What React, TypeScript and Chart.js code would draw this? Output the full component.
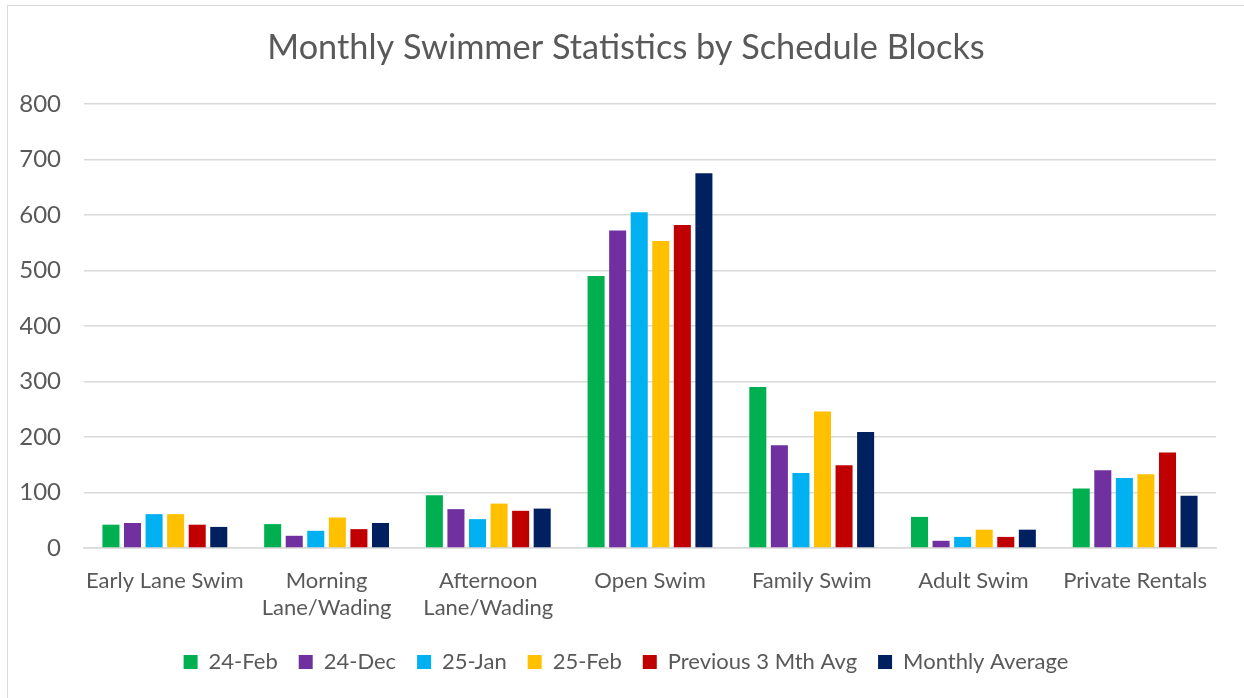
import React, { useEffect, useRef } from "react";
import { Chart, registerables } from "chart.js";

Chart.register(...registerables);

const categories: (string | string[])[] = [
  "Early Lane Swim",
  ["Morning", "Lane/Wading"],
  ["Afternoon", "Lane/Wading"],
  "Open Swim",
  "Family Swim",
  "Adult Swim",
  "Private Rentals",
];

const feb24 = [42, 43, 95, 490, 290, 56, 107];
const dec24 = [45, 22, 70, 572, 185, 13, 140];
const jan25 = [61, 31, 52, 605, 135, 20, 126];
const feb25 = [61, 55, 80, 553, 246, 33, 133];
const prev3MthAvg = [42, 34, 67, 582, 149, 20, 172];
const monthlyAverage = [38, 45, 71, 675, 209, 33, 94];

const seriesNames = ["24-Feb", "24-Dec", "25-Jan", "25-Feb", "Previous 3 Mth Avg", "Monthly Average"];
const seriesColors = ["#00B050", "#7030A0", "#00B0F0", "#FFC000", "#C00000", "#002060"];

const yTicks = [0, 100, 200, 300, 400, 500, 600, 700, 800];

const titleText = "Monthly Swimmer Statistics by Schedule Blocks";
const FONT = "Lato, 'Open Sans', sans-serif";
const TEXT = "#595959";

export default function App() {
  const ref = useRef<HTMLCanvasElement | null>(null);

  useEffect(() => {
    if (!ref.current) return;
    const values = [feb24, dec24, jan25, feb25, prev3MthAvg, monthlyAverage];
    const chart = new Chart(ref.current, {
      type: "bar",
      data: {
        labels: categories,
        datasets: values.map((data, i) => ({
          label: seriesNames[i],
          data,
          backgroundColor: seriesColors[i],
          borderWidth: 0,
          categoryPercentage: 0.8,
          barPercentage: 0.79,
          yAxisID: "y",
        })),
      },
      options: {
        animation: false,
        responsive: false,
        maintainAspectRatio: false,
        layout: { padding: { left: 20, right: 12, top: 0, bottom: 15 } },
        plugins: {
          title: {
            display: true,
            text: titleText,
            color: TEXT,
            font: { family: FONT, size: 34.3, weight: "normal", lineHeight: 1.2 },
            padding: { top: 27.4, bottom: 35.4 },
          },
          legend: {
            display: true,
            position: "bottom",
            labels: {
              color: TEXT,
              font: { family: FONT, size: 22 },
              boxWidth: 14,
              boxHeight: 14,
              padding: 21,
            },
          },
          tooltip: { enabled: false },
        },
        scales: {
          x: {
            grid: { display: false, drawTicks: false },
            border: { display: true, color: "#d9d9d9", width: 1.5 },
            ticks: {
              color: TEXT,
              font: { family: FONT, size: 22, lineHeight: 1.25 },
              maxRotation: 0,
              autoSkip: false,
              padding: 19,
            },
            afterFit: (s: any) => {
              s.height = 82;
            },
          },
          y: {
            position: "left",
            min: 0,
            max: 800,
            afterBuildTicks: (s: any) => {
              s.ticks = yTicks.map((v) => ({ value: v }));
            },
            grid: { color: "#d9d9d9", lineWidth: 1.5, drawTicks: false },
            border: { display: false },
            ticks: {
              color: TEXT,
              font: { family: FONT, size: 24 },
              padding: 23,
            },
            afterFit: (s: any) => {
              s.width = 64;
            },
          },
          yRight: {
            type: "linear",
            position: "right",
            display: true,
            grid: { display: false, drawTicks: false },
            border: { display: false },
            ticks: { display: false },
            afterFit: (s: any) => {
              s.width = 16;
            },
          },
        },
      },
    });
    return () => chart.destroy();
  }, []);

  return (
    <div
      style={{
        position: "fixed",
        left: 0,
        top: 0,
        width: 1244,
        height: 698,
        overflow: "hidden",
        background: "#ffffff",
      }}
    >
      <div
        style={{
          position: "absolute",
          left: 7,
          top: 5,
          width: 1260,
          height: 720,
          border: "1px solid #d9d9d9",
          boxSizing: "border-box",
        }}
      />
      <canvas ref={ref} width={1244} height={698} style={{ position: "absolute", left: 0, top: 0 }} />
    </div>
  );
}
